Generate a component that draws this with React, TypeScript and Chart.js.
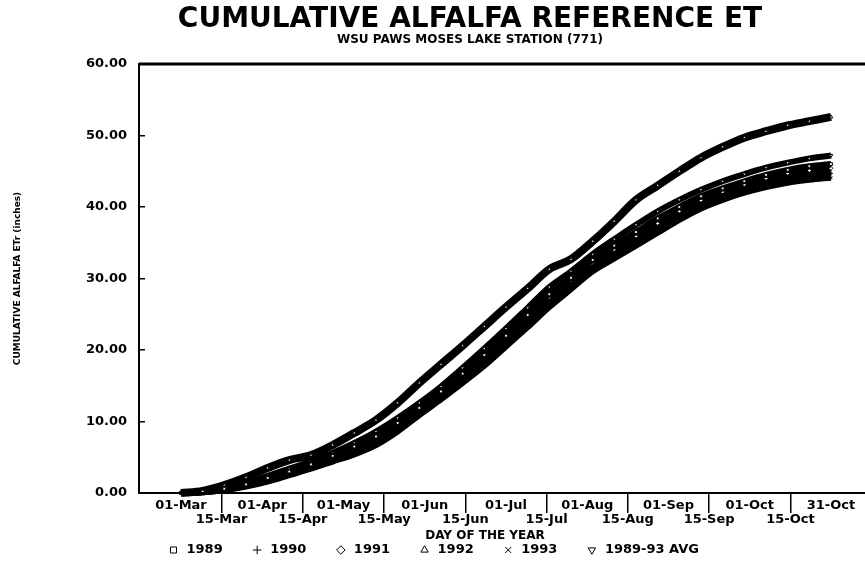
import React, { useEffect, useRef } from 'react';
import { Chart, registerables } from 'chart.js';

Chart.register(...registerables);

const FONT = "'DejaVu Sans', sans-serif";

// Day index counted from 01-Mar (one point every 8 days)
const DAYS = [0, 8, 16, 24, 32, 40, 48, 56, 64, 72, 80, 88, 96, 104, 112, 120, 128, 136, 144, 152, 160, 168, 176, 184, 192, 200, 208, 216, 224, 232, 240];

const TICK_DAYS = [0, 15, 30, 45, 60, 75, 90, 105, 120, 135, 150, 165, 180, 195, 210, 225, 240];
const TICK_LABELS = ['01-Mar', '15-Mar', '01-Apr', '15-Apr', '01-May', '15-May', '01-Jun', '15-Jun', '01-Jul', '15-Jul', '01-Aug', '15-Aug', '01-Sep', '15-Sep', '01-Oct', '15-Oct', '31-Oct'];

const SERIES_LABELS = ['1989', '1990', '1991', '1992', '1993', '1989-93 AVG'];
const POINT_STYLES = ['rect', 'cross', 'rectRot', 'triangle', 'crossRot', 'triangle'];
const POINT_ROTATIONS = [0, 0, 0, 0, 0, 180];
const LINE_WIDTHS = [6, 6, 6, 8, 6, 6];

const ET_1989 = [0, 0.2, 0.6, 1.2, 2.1, 3.0, 4.0, 5.2, 6.5, 7.9, 9.8, 11.9, 14.2, 16.7, 19.3, 22.0, 24.9, 27.8, 30.1, 32.6, 34.6, 36.5, 38.4, 40.0, 41.5, 42.6, 43.6, 44.5, 45.2, 45.7, 46.0];
const ET_1990 = [0, 0.1, 0.4, 1.0, 1.7, 2.6, 3.5, 4.6, 5.8, 7.1, 9.0, 11.2, 13.4, 15.8, 18.3, 21.0, 23.8, 26.6, 29.0, 31.5, 33.4, 35.2, 37.0, 38.7, 40.3, 41.5, 42.5, 43.3, 44.0, 44.4, 44.7];
const ET_1991 = [0, 0.1, 0.5, 1.1, 1.9, 2.8, 3.8, 4.9, 6.1, 7.5, 9.4, 11.6, 13.8, 16.2, 18.8, 21.6, 24.5, 27.3, 29.6, 32.0, 34.0, 35.9, 37.7, 39.4, 40.9, 42.1, 43.1, 44.0, 44.7, 45.1, 45.4];
const ET_1992 = [0, 0.3, 1.1, 2.2, 3.5, 4.6, 5.3, 6.7, 8.4, 10.2, 12.6, 15.4, 18.0, 20.6, 23.3, 26.0, 28.6, 31.3, 32.7, 35.2, 38.0, 41.0, 43.0, 45.0, 46.9, 48.4, 49.7, 50.6, 51.4, 52.0, 52.6];
const ET_1993 = [0, 0.1, 0.4, 0.9, 1.6, 2.5, 3.4, 4.4, 5.4, 6.7, 8.6, 10.9, 13.1, 15.4, 17.8, 20.5, 23.2, 26.0, 28.5, 31.0, 32.8, 34.6, 36.4, 38.2, 39.8, 41.0, 42.0, 42.8, 43.4, 43.8, 44.1];
const ET_AVG = [0, 0.2, 0.7, 1.4, 2.4, 3.4, 4.4, 5.6, 7.0, 8.6, 10.5, 12.6, 14.9, 17.5, 20.2, 23.0, 25.9, 28.8, 31.0, 33.4, 35.5, 37.5, 39.4, 41.0, 42.4, 43.6, 44.6, 45.5, 46.2, 46.8, 47.2];

const SERIES_VALUES = [ET_1989, ET_1990, ET_1991, ET_1992, ET_1993, ET_AVG];

const framePlugin = {
  id: 'frameLines',
  afterDatasetsDraw(chart: any) {
    const { ctx, chartArea } = chart;
    ctx.save();
    ctx.strokeStyle = '#000';
    ctx.lineWidth = 3;
    ctx.beginPath();
    ctx.moveTo(chartArea.left, chartArea.top);
    ctx.lineTo(chart.width, chartArea.top);
    ctx.stroke();
    ctx.lineWidth = 2;
    ctx.beginPath();
    ctx.moveTo(chartArea.left, chartArea.bottom);
    ctx.lineTo(chart.width, chartArea.bottom);
    ctx.stroke();
    ctx.restore();
  },
};

export default function App() {
  const canvasRef = useRef<HTMLCanvasElement | null>(null);

  useEffect(() => {
    if (!canvasRef.current) return;
    const datasets = SERIES_LABELS.map((label, si) => ({
      label,
      data: DAYS.map((d, i) => ({ x: d, y: SERIES_VALUES[si][i] })),
      borderColor: '#000',
      backgroundColor: '#fff',
      borderWidth: LINE_WIDTHS[si],
      pointStyle: POINT_STYLES[si],
      pointRotation: POINT_ROTATIONS[si],
      pointRadius: 2,
      pointBackgroundColor: '#fff',
      pointBorderColor: '#000',
      pointBorderWidth: 1,
      cubicInterpolationMode: 'monotone',
      clip: false,
    }));

    const chart = new Chart(canvasRef.current, {
      type: 'line',
      data: { datasets } as any,
      plugins: [framePlugin],
      options: {
        animation: false,
        responsive: false,
        devicePixelRatio: 1,
        layout: { padding: { left: 0, right: 0, top: 0, bottom: 3.5 } },
        plugins: {
          title: {
            display: true,
            text: 'CUMULATIVE ALFALFA REFERENCE ET',
            color: '#000',
            font: { family: FONT, size: 28, weight: 'bold', lineHeight: 1 },
            padding: { top: 6, bottom: 0 },
          },
          subtitle: {
            display: true,
            text: 'WSU PAWS MOSES LAKE STATION (771)',
            color: '#000',
            font: { family: FONT, size: 12, weight: 'bold', lineHeight: 1 },
            padding: { top: 0, bottom: 18 },
          },
          legend: {
            display: true,
            position: 'bottom',
            align: 'start',
            fullSize: false,
            title: {
              display: true,
              text: '',
              font: { family: FONT, size: 10, lineHeight: 1 },
              padding: { top: -37.5, bottom: 0 },
            },
            labels: {
              usePointStyle: true,
              boxHeight: 6,
              padding: 28,
              color: '#000',
              font: { family: FONT, size: 13, weight: 'bold' },
            },
          },
          tooltip: { enabled: false },
        },
        scales: {
          x: {
            type: 'linear',
            position: 'bottom',
            min: -15.5,
            max: 240,
            afterBuildTicks: (scale: any) => {
              scale.ticks = TICK_DAYS.map((v) => ({ value: v }));
            },
            afterFit: (scale: any) => {
              scale.height = 50;
            },
            border: { display: true, color: '#000', width: 2 },
            grid: {
              display: true,
              drawOnChartArea: false,
              drawTicks: true,
              tickLength: 20,
              lineWidth: 1.5,
              color: (ctx: any) => (ctx.index % 2 === 1 ? '#000' : 'rgba(0,0,0,0)'),
            },
            ticks: {
              autoSkip: false,
              maxRotation: 0,
              minRotation: 0,
              padding: -14,
              color: '#000',
              font: { family: FONT, size: 13, weight: 'bold', lineHeight: 1.05 },
              callback: (_v: any, index: number) =>
                index % 2 === 0 ? [TICK_LABELS[index], ' '] : [' ', TICK_LABELS[index]],
            },
            title: {
              display: true,
              text: 'DAY OF THE YEAR',
              color: '#000',
              font: { family: FONT, size: 12, weight: 'bold', lineHeight: 1.2 },
              padding: { top: 0, bottom: 0 },
            },
          },
          y: {
            type: 'linear',
            position: 'left',
            min: 0,
            max: 60,
            afterFit: (scale: any) => {
              scale.width = 139;
            },
            border: { display: true, color: '#000', width: 2 },
            grid: {
              display: true,
              drawOnChartArea: false,
              drawTicks: true,
              tickLength: -6,
              lineWidth: 1.5,
              color: '#000',
            },
            ticks: {
              stepSize: 10,
              padding: 18,
              color: '#000',
              font: { family: FONT, size: 13, weight: 'bold' },
              callback: (v: any) => Number(v).toFixed(2),
            },
            title: {
              display: true,
              text: 'CUMULATIVE ALFALFA ETr (inches)',
              color: '#000',
              font: { family: FONT, size: 9, weight: 'bold', lineHeight: 1.2 },
              padding: { top: 12.6, bottom: 0 },
            },
          },
          yr: {
            type: 'linear',
            position: 'right',
            display: true,
            afterFit: (scale: any) => {
              scale.width = 109;
            },
            grid: { display: false },
            border: { display: false },
            ticks: { display: false },
          },
        },
      } as any,
    });

    return () => chart.destroy();
  }, []);

  return (
    <div
      style={{
        position: 'absolute',
        left: 0,
        top: 0,
        width: 865,
        height: 570,
        overflow: 'hidden',
        background: '#fff',
      }}
    >
      <canvas ref={canvasRef} width={940} height={570} style={{ display: 'block' }} />
    </div>
  );
}
